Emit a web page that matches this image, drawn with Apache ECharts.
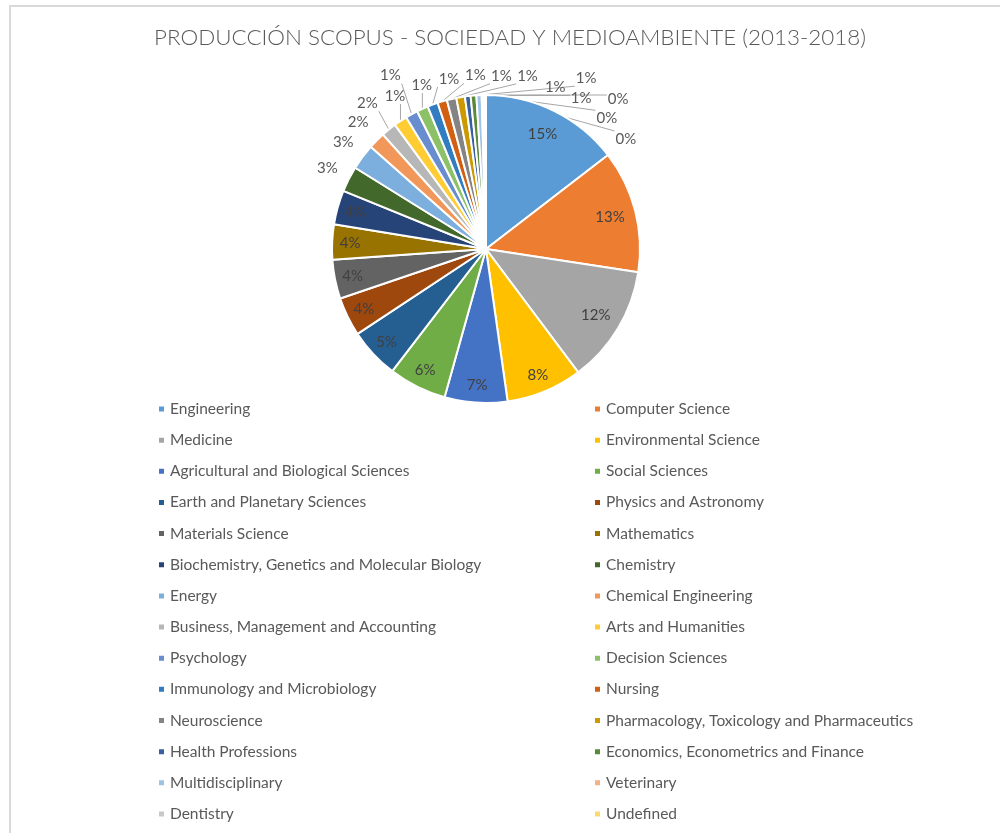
<!DOCTYPE html>
<html>
<head>
<meta charset="utf-8">
<title>Producción Scopus</title>
<script src="https://cdn.jsdelivr.net/npm/echarts@6/dist/echarts.min.js"></script>
<style>
  html, body { margin: 0; padding: 0; background: #fff; width: 1000px; height: 833px; overflow: hidden; }
  #frame { position: absolute; left: 9px; top: 5px; width: 1100px; height: 900px; border-left: 2px solid #d9d9d9; border-top: 2px solid #d9d9d9; }
  #chart { position: absolute; left: 0; top: 0; width: 1000px; height: 833px; }
</style>
</head>
<body>
<div id="frame"></div>
<div id="chart"></div>
<script>
const categories = [
  'Engineering', 'Computer Science', 'Medicine', 'Environmental Science',
  'Agricultural and Biological Sciences', 'Social Sciences', 'Earth and Planetary Sciences',
  'Physics and Astronomy', 'Materials Science', 'Mathematics',
  'Biochemistry, Genetics and Molecular Biology', 'Chemistry', 'Energy', 'Chemical Engineering',
  'Business, Management and Accounting', 'Arts and Humanities', 'Psychology', 'Decision Sciences',
  'Immunology and Microbiology', 'Nursing', 'Neuroscience',
  'Pharmacology, Toxicology and Pharmaceutics', 'Health Professions',
  'Economics, Econometrics and Finance', 'Multidisciplinary', 'Veterinary', 'Dentistry', 'Undefined'
];

// porcentaje aproximado de cada área
const shares = [
  14.6, 12.9, 12.4, 8.0, 6.6, 6.1, 5.3, 4.1, 4.1, 3.7, 3.6, 2.7, 2.7, 1.8,
  1.6, 1.4, 1.3, 1.2, 1.1, 1.0, 1.0, 0.9, 0.6, 0.6, 0.55, 0.2, 0.15, 0.1
];

const palette = [
  '#5B9BD5', '#ED7D31', '#A5A5A5', '#FFC000', '#4472C4', '#70AD47',
  '#255E91', '#9E480E', '#636363', '#997300', '#264478', '#43682B',
  '#7CAFDD', '#F1975A', '#B7B7B7', '#FFCD33', '#698ED0', '#8CC168',
  '#327DC2', '#D26012', '#848484', '#CC9A00', '#3A5FA0', '#5A8A39',
  '#9DC3E6', '#F4B183', '#C9C9C9', '#FFD966'
];

const CX = 486, CY = 249, R = 154;
const FONT = 'Lato, "Open Sans", sans-serif';
const INSIDE_COUNT = 11; // las primeras áreas llevan la etiqueta dentro

const total = shares.reduce((a, b) => a + b, 0);
const pct = i => Math.round(shares[i] / total * 100) + '%';

// ángulo medio de cada porción (desde arriba, sentido horario)
const midAngle = [];
let acc = 0;
shares.forEach(v => {
  const a0 = acc / total * 360;
  acc += v;
  midAngle.push((a0 + acc / total * 360) / 2);
});

function polar(rad, deg) {
  const t = deg * Math.PI / 180;
  return [CX + rad * Math.sin(t), CY - rad * Math.cos(t)];
}

function nearestOnRect(px, py, r) {
  return [Math.max(r.x, Math.min(px, r.x + r.w)), Math.max(r.y, Math.min(py, r.y + r.h))];
}

function overlaps(a, b, pad) {
  return a.x < b.x + b.w + pad && b.x < a.x + a.w + pad && a.y < b.y + b.h + pad && b.y < a.y + a.h + pad;
}

// colocar las etiquetas externas sin que se pisen, en orden de ángulo
const ctx = document.createElement('canvas').getContext('2d');
ctx.font = '15px ' + FONT;
const labelPos = {};
const placed = [];
let lastAngle = -Infinity;

function findSpot(i, w, h, useOrder) {
  let best = null;
  for (let dr = 0; dr <= 200; dr += 2) {
    for (let da = -60; da <= 80; da += 1) {
      const cost = dr + (da < 0 ? 0.7 : 3) * Math.abs(da);
      if (best && cost >= best.cost) continue;
      const ang = midAngle[i] + da;
      if (useOrder && ang < lastAngle - 2) continue;
      const [x, y] = polar(R + dr, ang);
      const rect = { x: x - w / 2, y: y - h / 2, w, h };
      const [nx, ny] = nearestOnRect(CX, CY, rect);
      if (Math.hypot(nx - CX, ny - CY) < R + 10) continue;
      if (rect.y < 60 || rect.x < 14) continue;
      if (placed.some(p => overlaps(p, rect, 3))) continue;
      best = { cost, rect, x, y, ang };
    }
  }
  return best;
}

for (let i = INSIDE_COUNT; i < categories.length; i++) {
  const w = ctx.measureText(pct(i)).width + 2, h = 16;
  const best = findSpot(i, w, h, true) || findSpot(i, w, h, false);
  placed.push(best.rect);
  lastAngle = best.ang;
  const anchor = polar(R, midAngle[i]);
  const end = nearestOnRect(anchor[0], anchor[1], best.rect);
  best.line = Math.hypot(end[0] - anchor[0], end[1] - anchor[1]) > 14 ? [anchor, end] : [anchor, anchor];
  labelPos[i] = best;
}

const pieData = categories.map((name, i) => ({
  name,
  value: shares[i],
  itemStyle: { color: palette[i] },
  label: i < INSIDE_COUNT
    ? { position: 'inside', color: '#404040' }
    : { position: 'outside', color: '#595959' },
  labelLine: { show: i >= INSIDE_COUNT }
}));

const legendBase = {
  orient: 'vertical',
  top: 396,
  icon: 'rect',
  itemWidth: 7,
  itemHeight: 7,
  itemGap: 15.15,
  selectedMode: false,
  textStyle: { fontFamily: FONT, fontSize: 15.5, color: '#595959', lineHeight: 16 }
};

const chart = echarts.init(document.getElementById('chart'));
chart.setOption({
  animation: false,
  title: {
    text: 'PRODUCCIÓN SCOPUS - SOCIEDAD Y MEDIOAMBIENTE (2013-2018)',
    left: 505,
    top: 22,
    textAlign: 'center',
    textStyle: { fontFamily: FONT, fontSize: 22.4, fontWeight: 300, color: '#595959' }
  },
  legend: [
    Object.assign({}, legendBase, { left: 152, data: categories.filter((_, i) => i % 2 === 0) }),
    Object.assign({}, legendBase, { left: 588, data: categories.filter((_, i) => i % 2 === 1) })
  ],
  series: [{
    type: 'pie',
    center: [CX, CY],
    radius: [0, R],
    startAngle: 90,
    clockwise: true,
    avoidLabelOverlap: false,
    itemStyle: { borderColor: '#fff', borderWidth: 2 },
    label: {
      show: true,
      fontFamily: FONT,
      fontSize: 15,
      formatter: p => pct(p.dataIndex)
    },
    labelLine: { lineStyle: { color: '#A6A6A6', width: 1 }, length: 10, length2: 10 },
    labelLayout: p => {
      const i = p.dataIndex;
      if (i < INSIDE_COUNT) {
        const [x, y] = polar(R - (i < 3 ? 26 : 18), midAngle[i]);
        return { x, y, align: 'center', verticalAlign: 'middle' };
      }
      const L = labelPos[i];
      return { x: L.x, y: L.y, align: 'center', verticalAlign: 'middle', labelLinePoints: L.line };
    },
    emphasis: { disabled: true },
    data: pieData
  }]
});
</script>
</body>
</html>
